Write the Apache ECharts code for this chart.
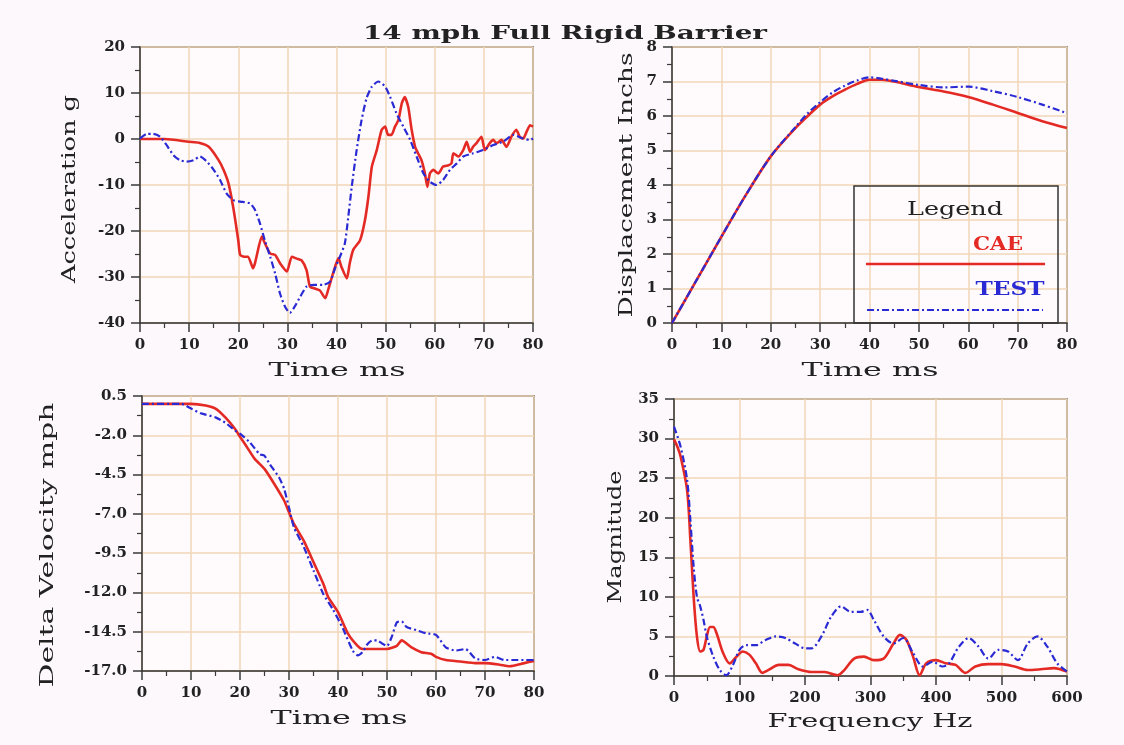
<!DOCTYPE html>
<html>
<head>
<meta charset="utf-8">
<title>14 mph Full Rigid Barrier</title>
<script src="https://cdn.jsdelivr.net/npm/echarts@6/dist/echarts.min.js"></script>
<style>
  html, body { margin: 0; padding: 0; background: #fcf8fb; }
  #chart { width: 1124px; height: 745px; }
</style>
</head>
<body>
<div id="chart"></div>
<script>
// acceleration (g) vs time (ms)
const accelTimeCae = [0, 5, 10, 12, 14, 16, 17, 18, 19, 20, 20.4, 21.4, 22, 23, 24.8, 25.1, 26.5, 27.5, 28.5, 29.9,
  30.9, 31.9, 32.9, 33.9, 34.6, 35.6, 36.6, 37.7, 38.3, 39.3, 40.4, 41, 42.1, 42.7, 43.4, 44.8, 45.8, 46.5, 47.2, 48.2,
  49.2, 49.9, 50.5, 51.2, 51.9, 52.6, 53.3, 53.9, 54.6, 55.3, 56, 56.6, 57.3, 58, 58.5, 59, 59.7, 60.7, 61.7, 62.8,
  63.4, 63.8, 64.8, 65.8, 66.5, 67.2, 67.8, 68.5, 69.5, 70.2, 71.2, 71.9, 72.6, 73.6, 74.6, 75.6, 76.6, 77.3, 78, 78.7,
  79.4, 80];
const accelCae = [0, 0, -0.6, -0.8, -1.7, -4.6, -6.7, -9.6, -15, -22, -25.2, -25.6, -25.6, -28.1, -21.2, -21.9, -24.9, -25.2, -27, -28.8,
  -25.6, -26, -26.4, -28.5, -32.1, -32.5, -32.9, -34.6, -32.8, -29.2, -25.9, -27.8, -30.3, -27, -24.1, -22, -17.6, -12.5, -6, -2.4,
  2, 2.7, 0.9, 0.9, 2.7, 4.1, 7.8, 9.1, 7, 2, -1.7, -3.1, -4.6, -7.5, -10.4, -7.5, -6.7, -7.5, -6, -5.7,
  -5.3, -3.1, -3.8, -2.4, -0.6, -2.8, -1.7, -0.9, 0.5, -2.4, -0.9, -0.2, -0.9, -0.2, -1.7, 0.5, 2, 0.5, 0.1, 1.6,
  3, 2.7];
const accelTimeTest = [0, 1.4, 2.7, 4.1, 5.4, 6.8, 8.1, 9.5, 10.9, 12.2, 13.6, 15, 16.3, 17.6, 19, 20.4, 22.4, 23.4, 24.4, 25.4,
  26.5, 27.5, 28.5, 29.5, 30.5, 31.5, 32.6, 33.9, 35.3, 37.3, 38.7, 39.7, 40.7, 41.7, 42.4, 43.1, 44.1, 45.1, 46.1, 47.2,
  48.5, 49.9, 50.9, 52.2, 53.6, 55, 56.3, 57.7, 59, 60.4, 61.7, 63.1, 64.5, 65.8, 67.8, 69.9, 71.9, 73.9, 76, 78,
  79.4, 80];
const accelTest = [0.1, 1.1, 1.1, 0.5, -1.3, -3.5, -4.6, -4.9, -4.6, -3.8, -4.9, -6.7, -8.9, -11.8, -13.3, -13.6, -14, -15.4, -18.3, -22,
  -25.6, -29.2, -33.6, -36.4, -37.8, -36.4, -34.3, -32.1, -31.7, -31.7, -31, -28.1, -25.6, -22.7, -16.9, -10.4, -2.4, 4.1, 8.8, 11.4,
  12.5, 11.4, 9.2, 5.6, 2.7, -0.2, -3.8, -7.5, -9.3, -10, -8.9, -6.7, -5.3, -3.8, -3.1, -2.4, -1.3, -0.6, 0.9, 0.1,
  -0.2, 0.1];

// displacement (inch) vs time (ms)
const dispTime = [0, 5, 10, 15, 20, 25, 27.5, 30, 32.5, 35, 37.5, 40, 42.5, 45, 50, 55, 60, 65, 70, 75, 80];
const dispCae = [0, 1.25, 2.5, 3.72, 4.83, 5.65, 6.0, 6.33, 6.57, 6.76, 6.93, 7.05, 7.05, 7.0, 6.84, 6.71, 6.55, 6.33, 6.09, 5.85, 5.65];
const dispTest = [0, 1.25, 2.5, 3.72, 4.83, 5.68, 6.08, 6.4, 6.68, 6.88, 7.03, 7.12, 7.08, 7.02, 6.9, 6.83, 6.85, 6.72, 6.55, 6.33, 6.08];

// delta velocity (mph) vs time (ms)
const velTimeCae = [0, 5, 10, 13, 15, 17, 19, 20, 21, 23, 25, 27, 29, 30, 31, 33, 35, 37, 38, 40,
  42, 44, 45, 47, 50, 52, 53, 55, 57, 59, 60, 62, 65, 68, 70, 73, 75, 78, 80];
const velCae = [0, 0, 0, -0.1, -0.3, -0.86, -1.6, -2.1, -2.55, -3.5, -4.14, -5.1, -6.15, -6.9, -7.64, -8.7, -10.07, -11.45, -12.3, -13.25,
  -14.6, -15.4, -15.6, -15.6, -15.6, -15.4, -15.05, -15.5, -15.8, -15.9, -16.1, -16.3, -16.4, -16.5, -16.5, -16.6, -16.7, -16.5, -16.36];
const velTimeTest = [0, 8, 10, 12, 15, 17, 19, 20, 22, 24, 25, 26, 28, 29, 30, 31, 33, 35, 37, 39,
  41, 43, 44, 45, 46, 47, 48, 49, 50, 51, 52, 53, 54, 56, 58, 60, 62, 64, 66, 68,
  70, 72, 74, 76, 78, 80];
const velTest = [0, 0, -0.3, -0.6, -0.86, -1.2, -1.7, -1.9, -2.45, -3.2, -3.3, -3.8, -4.7, -5.4, -6.6, -7.85, -9.1, -10.6, -12.1, -13.1,
  -14.3, -15.7, -16, -15.8, -15.3, -15.05, -15.05, -15.25, -15.4, -14.8, -13.9, -13.85, -14.2, -14.4, -14.6, -14.7, -15.5, -15.7, -15.6, -16.2,
  -16.3, -16.1, -16.3, -16.3, -16.3, -16.3];

// spectrum magnitude vs frequency (Hz)
const specFreqCae = [0, 5, 10, 20, 25, 30, 35, 40, 45, 50, 55, 60, 65, 75, 85, 95, 105, 115, 125, 135,
  145, 160, 175, 190, 210, 230, 250, 260, 275, 290, 305, 320, 335, 345, 355, 365, 375, 385, 400, 415,
  430, 445, 460, 480, 500, 520, 540, 560, 580, 600];
const specCae = [29.9, 29, 27.75, 23.5, 17.2, 10, 5, 3.1, 3.3, 5, 6.2, 6.2, 5.4, 2.9, 1.6, 2.4, 3.1, 2.7, 1.6, 0.4,
  0.8, 1.4, 1.4, 0.85, 0.5, 0.5, 0.1, 0.75, 2.2, 2.45, 2, 2.2, 4.1, 5.2, 4.55, 2.45, 0.1, 1.6, 2, 1.6,
  1.4, 0.4, 1.2, 1.5, 1.5, 1.2, 0.75, 0.85, 1.0, 0.55];
const specFreqTest = [0, 10, 20, 25, 30, 35, 40, 45, 50, 60, 70, 80, 90, 100, 110, 125, 140, 155, 170, 185,
  200, 210, 225, 240, 255, 270, 285, 295, 305, 320, 335, 350, 365, 380, 395, 410, 420, 435, 450, 465,
  480, 495, 510, 525, 540, 555, 570, 585, 600];
const specTest = [31.5, 29, 24.8, 19.7, 13.8, 10, 8.8, 7.1, 5, 2.45, 0.75, 0.1, 1.4, 3.3, 3.9, 3.9, 4.55, 5, 4.8, 4.1,
  3.5, 3.5, 5, 7.5, 8.8, 8.1, 8.1, 8.35, 7.1, 5, 4.1, 4.8, 2.9, 1.2, 1.8, 1.2, 1.6, 3.7, 4.8, 3.7,
  2.2, 3.3, 3.1, 2, 4.1, 5, 3.7, 1.6, 0.55];

const seriesNames = ['CAE', 'TEST'];

const RED = '#e42a24';
const BLUE = '#2a2ad4';
const INK = '#3a3a3a';
const SERIF = '"DejaVu Serif", "Liberation Serif", serif';

function zip(xs, ys) {
  return xs.map((x, i) => [x, ys[i]]);
}

// axis look shared by all four panels
function axisBase(gridIndex, min, max, interval) {
  return {
    type: 'value',
    gridIndex: gridIndex,
    min: min,
    max: max,
    interval: interval,
    axisLine: { show: true, onZero: false, lineStyle: { color: INK, width: 1.5 } },
    axisTick: { show: true, length: 9, lineStyle: { color: INK, width: 1.5 } },
    minorTick: { show: true, splitNumber: 2, length: 5, lineStyle: { color: INK, width: 1.2 } },
    splitLine: { show: true, lineStyle: { color: '#f0d7b6', width: 1.5 } },
    axisLabel: {
      fontFamily: SERIF, fontWeight: 'bold', fontSize: 15, color: '#222',
      margin: 15, showMinLabel: true, showMaxLabel: true
    }
  };
}

function xAxisFor(gridIndex, max, interval) {
  return axisBase(gridIndex, 0, max, interval);
}

function yAxisFor(gridIndex, min, max, interval, digits) {
  const a = axisBase(gridIndex, min, max, interval);
  a.axisLabel.formatter = v => v.toFixed(digits);
  return a;
}

function lineSeries(name, gridIndex, data, smooth) {
  const cae = name === seriesNames[0];
  return {
    name: name,
    type: 'line',
    xAxisIndex: gridIndex,
    yAxisIndex: gridIndex,
    data: data,
    symbol: 'none',
    smooth: smooth,
    z: cae ? 3 : 4,
    lineStyle: cae
      ? { color: RED, width: 2.6 }
      : { color: BLUE, width: 2.2, type: [7, 3, 2, 3] }
  };
}

const measureCtx = document.createElement('canvas').getContext('2d');

// text stretched along its own direction to the length seen in the picture
function txt(str, cx, cy, len, opts) {
  opts = opts || {};
  const fs = opts.size || 18;
  const font = (opts.weight || 'normal') + ' ' + fs + 'px ' + SERIF;
  measureCtx.font = font;
  const sc = len / measureCtx.measureText(str).width;
  return {
    type: 'text',
    x: cx,
    y: cy,
    rotation: opts.vertical ? Math.PI / 2 : 0,
    scaleX: sc,
    z: 100,
    style: {
      text: str,
      font: font,
      fill: opts.color || '#222',
      align: 'center',
      verticalAlign: 'middle'
    }
  };
}

const chart = echarts.init(document.getElementById('chart'));

chart.setOption({
  backgroundColor: '#fcf8fb',
  animation: false,
  grid: [
    { left: 140, top: 47, width: 393, height: 276 },
    { left: 672, top: 47, width: 395, height: 276 },
    { left: 142, top: 396, width: 392, height: 275 },
    { left: 674, top: 399, width: 393, height: 277 }
  ].map(g => Object.assign({
    show: true, borderColor: INK, borderWidth: 1.5, backgroundColor: '#fffbfd', containLabel: false
  }, g)),
  xAxis: [
    xAxisFor(0, 80, 10),
    xAxisFor(1, 80, 10),
    xAxisFor(2, 80, 10),
    xAxisFor(3, 600, 100)
  ],
  yAxis: [
    yAxisFor(0, -40, 20, 10, 0),
    yAxisFor(1, 0, 8, 1, 0),
    yAxisFor(2, -17, 0.5, 2.5, 1),
    yAxisFor(3, 0, 35, 5, 0)
  ],
  series: [
    lineSeries('CAE', 0, zip(accelTimeCae, accelCae), 0.2),
    lineSeries('TEST', 0, zip(accelTimeTest, accelTest), 0.2),
    lineSeries('CAE', 1, zip(dispTime, dispCae), 0.3),
    lineSeries('TEST', 1, zip(dispTime, dispTest), 0.3),
    lineSeries('CAE', 2, zip(velTimeCae, velCae), 0.2),
    lineSeries('TEST', 2, zip(velTimeTest, velTest), 0.2),
    lineSeries('CAE', 3, zip(specFreqCae, specCae), 0.3),
    lineSeries('TEST', 3, zip(specFreqTest, specTest), 0.3)
  ],
  graphic: [
    txt('14 mph Full Rigid Barrier', 565, 34, 404, { weight: 'bold' }),
    // axis names
    txt('Time ms', 337, 371, 137),
    txt('Time ms', 870, 371, 137),
    txt('Time ms', 339, 719, 137),
    txt('Frequency Hz', 870, 722, 205),
    txt('Acceleration g', 70, 189, 188, { vertical: true }),
    txt('Displacement Inchs', 627, 185, 265, { vertical: true }),
    txt('Delta Velocity mph', 48, 545, 285, { vertical: true }),
    txt('Magnitude', 616, 537, 133, { vertical: true }),
    // legend box in the displacement panel
    {
      type: 'rect', z: 90,
      shape: { x: 854, y: 186, width: 204, height: 137 },
      style: { fill: 'none', stroke: '#333', lineWidth: 1.5 }
    },
    txt('Legend', 955, 210, 96),
    txt(seriesNames[0], 998, 245, 50, { color: RED, weight: 'bold' }),
    {
      type: 'line', z: 100,
      shape: { x1: 866, y1: 264, x2: 1045, y2: 264 },
      style: { stroke: RED, lineWidth: 2.6 }
    },
    txt(seriesNames[1], 1010, 290, 69, { color: BLUE, weight: 'bold' }),
    {
      type: 'line', z: 100,
      shape: { x1: 867, y1: 310, x2: 1043, y2: 310 },
      style: { stroke: BLUE, lineWidth: 2.2, lineDash: [7, 3, 2, 3] }
    }
  ]
});
</script>
</body>
</html>
